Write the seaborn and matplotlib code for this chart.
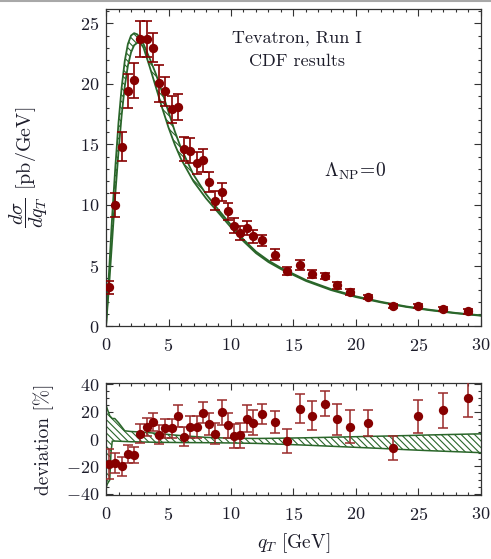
import matplotlib
matplotlib.use('Agg')
import matplotlib.pyplot as plt
from matplotlib.ticker import MultipleLocator
from matplotlib.lines import Line2D
import seaborn as sns
import pandas as pd

# CDF Run I data
q_T = [0.25, 0.75, 1.25, 1.75, 2.25, 2.75, 3.25, 3.75, 4.25, 4.75, 5.25, 5.75,
       6.25, 6.75, 7.25, 7.75, 8.25, 8.75, 9.25, 9.75, 10.25, 10.75, 11.25, 11.75,
       12.5, 13.5, 14.5, 15.5, 16.5, 17.5, 18.5, 19.5, 21, 23, 25, 27, 29]
xsec = [3.2, 10.0, 14.8, 19.45, 20.3, 23.7, 23.7, 23.0, 20.05, 19.4, 17.9, 18.1,
        14.6, 14.5, 13.5, 13.7, 11.9, 10.35, 11.1, 9.5, 8.3, 7.7, 8.1, 7.4,
        7.1, 5.9, 4.55, 5.05, 4.3, 4.15, 3.35, 2.8, 2.4, 1.65, 1.65, 1.4, 1.2]
xsec_err = [0.55, 1.0, 1.2, 1.4, 1.45, 1.5, 1.5, 1.2, 1.5, 1.2, 1.1, 1.1,
            1.0, 1.0, 0.9, 0.95, 0.8, 0.8, 0.75, 0.7, 0.6, 0.6, 0.55, 0.5,
            0.45, 0.45, 0.35, 0.4, 0.35, 0.25, 0.3, 0.25, 0.2, 0.15, 0.2, 0.2, 0.2]
dev = [-18.2, -17.5, -20.0, -10.9, -11.9, 4.0, 8.7, 12.3, 3.3, 7.7, 7.7, 17.0,
       1.6, 8.9, 8.9, 19.4, 11.1, 4.0, 19.6, 9.9, 2.1, 2.6, 14.8, 11.9,
       18.5, 12.3, -1.6, 22.2, 17.2, 25.8, 14.5, 8.9, 11.4, -6.5, 16.7, 20.9, 30.2]
dev_err = [11, 7.5, 7, 6.5, 6, 7, 6.5, 6.5, 7, 7, 7, 8,
           7, 8, 8, 8, 8, 8, 9, 9, 9, 9, 10, 9,
           7.5, 8, 9, 10.5, 10.5, 9, 11.5, 12, 9.5, 9, 12, 13, 14]

# theory band (Lambda_NP = 0)
th_q = [0, 0.25, 0.5, 0.75, 1.0, 1.25, 1.5, 1.75, 2.0, 2.25, 2.5, 2.75, 3.0, 3.5,
        4.0, 4.5, 5.0, 5.5, 6.0, 7.0, 8.0, 9.0, 10, 11, 12, 13, 14, 16, 18, 20,
        22, 24, 26, 28, 30]
th_hi = [0, 4.6, 9.2, 13.2, 16.8, 19.7, 21.9, 23.3, 24.0, 24.2, 24.1, 23.8, 23.3, 22.1,
         20.8, 19.3, 17.7, 16.1, 14.7, 12.5, 10.9, 9.6, 8.35, 7.15, 6.15, 5.4, 4.8, 3.8,
         3.05, 2.45, 2.0, 1.62, 1.33, 1.08, 0.88]
th_lo = [0, 3.4, 7.2, 11.0, 14.4, 17.4, 19.8, 21.5, 22.6, 23.2, 23.4, 23.4, 23.0, 21.4,
         19.7, 18.0, 16.4, 15.0, 13.8, 11.95, 10.55, 9.35, 8.15, 7.0, 6.02, 5.28, 4.7, 3.72,
         2.97, 2.39, 1.95, 1.58, 1.29, 1.05, 0.85]

dev_q = [0, 0.1, 0.3, 0.4, 0.5, 0.7, 1.0, 1.5, 2.0, 3, 4, 5, 6, 8, 10, 12, 14,
         16, 18, 20, 22, 24, 26, 28, 30]
dev_hi = [25, 22, 17, 16, 15, 15, 12, 6, 5.5, 5, 4.2, 3.3, 2.5, 1.2, 0.6, 0.4, 0.6,
          0.9, 1.3, 1.7, 2.1, 2.5, 3.0, 3.4, 3.8]
dev_lo = [-36, -33, -30, -10, -1.5, -1.5, -1.6, -1.8, -2.0, -2.2, -2.4, -2.5, -2.6,
          -2.7, -2.9, -3.2, -3.8, -4.5, -5.3, -6.1, -6.9, -7.8, -8.6, -9.3, -10]

sns.set_theme(style='ticks')
plt.rcParams['font.family'] = 'serif'
plt.rcParams['font.serif'] = ['cmr10', 'DejaVu Serif']
plt.rcParams['mathtext.fontset'] = 'cm'
plt.rcParams['axes.formatter.use_mathtext'] = True
plt.rcParams['hatch.linewidth'] = 0.8
plt.rcParams['hatch.color'] = '#2d6e2d'

txt = '#1c1c2a'
red = '#870000'
green = '#2a662a'

df = pd.DataFrame({'q': q_T, 'xsec': xsec, 'xerr': xsec_err, 'dev': dev, 'derr': dev_err})
band = pd.DataFrame({'q': th_q, 'hi': th_hi, 'lo': th_lo})
dband = pd.DataFrame({'q': dev_q, 'hi': dev_hi, 'lo': dev_lo})

fig = plt.figure(figsize=(4.91, 5.59), dpi=100)
ax1 = fig.add_axes([0.2159, 0.4168, 0.7637, 0.5672])
ax2 = fig.add_axes([0.2159, 0.1145, 0.7637, 0.2003])


def style(ax):
    ax.tick_params(which='both', direction='in', top=True, right=True,
                   colors='#333333', labelcolor=txt, labelsize=13, width=0.8)
    ax.tick_params(which='major', length=5)
    ax.tick_params(which='minor', length=2.5)
    ax.tick_params(axis='x', which='major', pad=8)
    ax.tick_params(axis='y', which='major', pad=5)
    for s in ax.spines.values():
        s.set_color('#333333')
        s.set_linewidth(0.9)
    ax.xaxis.set_major_locator(MultipleLocator(5))
    ax.xaxis.set_minor_locator(MultipleLocator(1))


# top panel
ax1.fill_between(band['q'], band['lo'], band['hi'], facecolor='white',
                 edgecolor=green, hatch='\\\\\\\\\\', linewidth=0, zorder=1)
sns.lineplot(data=band, x='q', y='hi', ax=ax1, color=green, lw=1.3, zorder=2)
sns.lineplot(data=band, x='q', y='lo', ax=ax1, color=green, lw=1.3, zorder=2)
ax1.errorbar(df['q'], df['xsec'], yerr=df['xerr'], fmt='none', ecolor=red,
             elinewidth=1.2, capsize=3.5, capthick=1.2, zorder=3)
sns.scatterplot(data=df, x='q', y='xsec', ax=ax1, color=red, s=45,
                edgecolor=red, linewidth=0, zorder=4)
ax1.set_xlim(0, 30)
ax1.set_ylim(0, 26.2)
style(ax1)
ax1.yaxis.set_major_locator(MultipleLocator(5))
ax1.yaxis.set_minor_locator(MultipleLocator(1))
ax1.set_xlabel('')
ax1.set_ylabel(r'$\dfrac{d\sigma}{dq_T}$ [pb/GeV]', fontsize=14.5, color=txt)
ax1.yaxis.set_label_coords(-0.15, 0.5)
ax1.text(15.3, 23.8, 'Tevatron, Run I', ha='center', va='center', fontsize=13, color=txt)
ax1.text(15.3, 21.9, 'CDF results', ha='center', va='center', fontsize=13, color=txt)
ax1.text(19.9, 12.8, r'$\Lambda_{\mathrm{NP}}\!=\!0$', ha='center', va='center',
         fontsize=14, color=txt)

# bottom panel
ax2.fill_between(dband['q'], dband['lo'], dband['hi'], facecolor='white',
                 edgecolor=green, hatch='\\\\\\\\\\', linewidth=0, zorder=1)
sns.lineplot(data=dband, x='q', y='hi', ax=ax2, color=green, lw=1.1, zorder=2)
sns.lineplot(data=dband, x='q', y='lo', ax=ax2, color=green, lw=1.1, zorder=2)
ax2.errorbar(df['q'], df['dev'], yerr=df['derr'], fmt='none', ecolor='#9a2a2a',
             elinewidth=1.1, capsize=3.5, capthick=1.1, zorder=3)
sns.scatterplot(data=df, x='q', y='dev', ax=ax2, color=red, s=45,
                edgecolor=red, linewidth=0, zorder=4)
ax2.set_xlim(0, 30)
ax2.set_ylim(-41, 41)
style(ax2)
ax2.yaxis.set_major_locator(MultipleLocator(20))
ax2.yaxis.set_minor_locator(MultipleLocator(5))
ax2.set_xlabel(r'$q_T$ [GeV]', fontsize=14, color=txt, labelpad=6)
ax2.set_ylabel('deviation [%]', fontsize=14, color=txt)
ax2.yaxis.set_label_coords(-0.14, 0.5)

# screenshot border at the top
fig.add_artist(Line2D([0, 1], [0.998, 0.998], color='#a8a8a8', lw=1.5,
                      transform=fig.transFigure))

fig.savefig('out.png', dpi=100)
plt.close(fig)
